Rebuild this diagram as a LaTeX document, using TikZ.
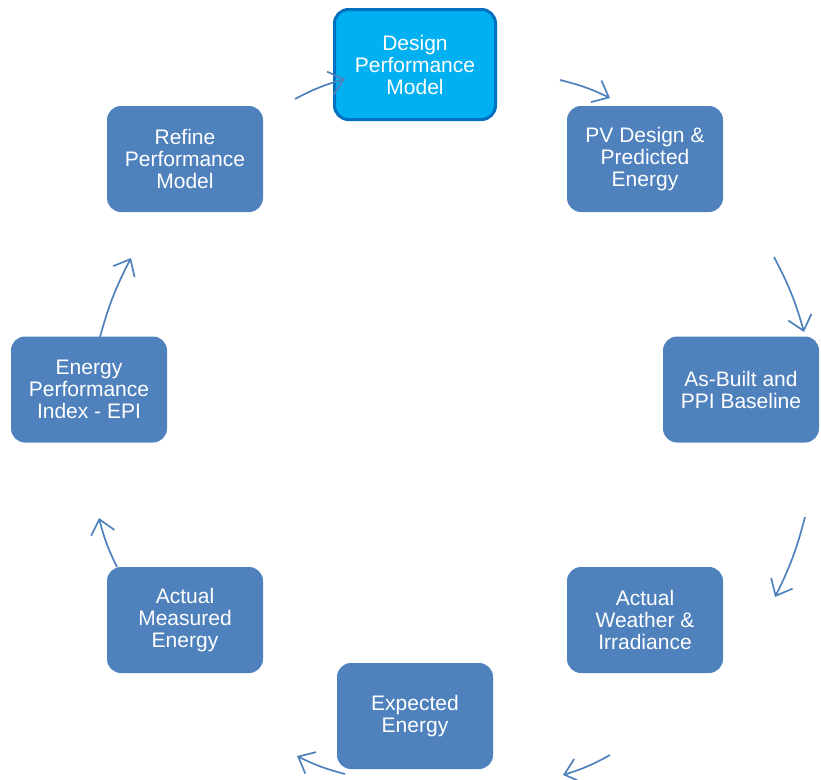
\documentclass[tikz,border=0pt]{standalone}
\usepackage{fontspec}
\setmainfont{Liberation Sans}
\usetikzlibrary{arrows.meta}
\definecolor{boxblue}{HTML}{4F81BD}
\definecolor{hiblue}{HTML}{00B0F0}
\definecolor{hiedge}{HTML}{0070C0}
\begin{document}
\begin{tikzpicture}[x=1pt,y=-1pt,
  stage/.style={rectangle, rounded corners=14pt, fill=boxblue, draw=none,
    minimum width=156pt, minimum height=106pt, text=white, align=center,
    font=\fontsize{21}{22}\selectfont, inner sep=0pt},
  startstage/.style={stage, fill=hiblue, draw=hiedge, line width=3pt,
    minimum width=161pt, minimum height=110pt},
  flow/.style={draw=boxblue, line width=1.7pt,
    -{Straight Barb[length=14pt,width=24pt]}, bend left=6}]
\useasboundingbox (0,0) rectangle (821,779);

% stages of the cycle
\node[startstage] (design) at (415,64.5) {Design\\Performance\\Model};
\node[stage] (pv)      at (645,159)   {PV Design \&\\Predicted\\Energy};
\node[stage] (asbuilt) at (741,389.5) {As-Built and\\PPI Baseline};
\node[stage] (weather) at (645,620)   {Actual\\Weather \&\\Irradiance};
\node[stage] (expect)  at (415,716)   {Expected\\Energy};
\node[stage] (meas)    at (185,620)   {Actual\\Measured\\Energy};
\node[stage] (epi)     at (89,389.5)  {Energy\\Performance\\Index - EPI};
\node[stage] (refine)  at (185,159)   {Refine\\Performance\\Model};

% arrow end points around the ring
\coordinate (a1s) at (560,80);  \coordinate (a1e) at (610,98);
\coordinate (a2s) at (774,257); \coordinate (a2e) at (804,332);
\coordinate (a3s) at (805,517); \coordinate (a3e) at (775,597);
\coordinate (a4s) at (610,755); \coordinate (a4e) at (563,775);
\coordinate (a5s) at (345,774); \coordinate (a5e) at (297,756);
\coordinate (a6s) at (117,567); \coordinate (a6e) at (99,518);
\coordinate (a7s) at (100,337); \coordinate (a7e) at (131,258);
\coordinate (a8s) at (295,99);  \coordinate (a8e) at (345,79);

\foreach \k in {1,...,8} \draw[flow] (a\k s) to (a\k e);
\end{tikzpicture}
\end{document}
